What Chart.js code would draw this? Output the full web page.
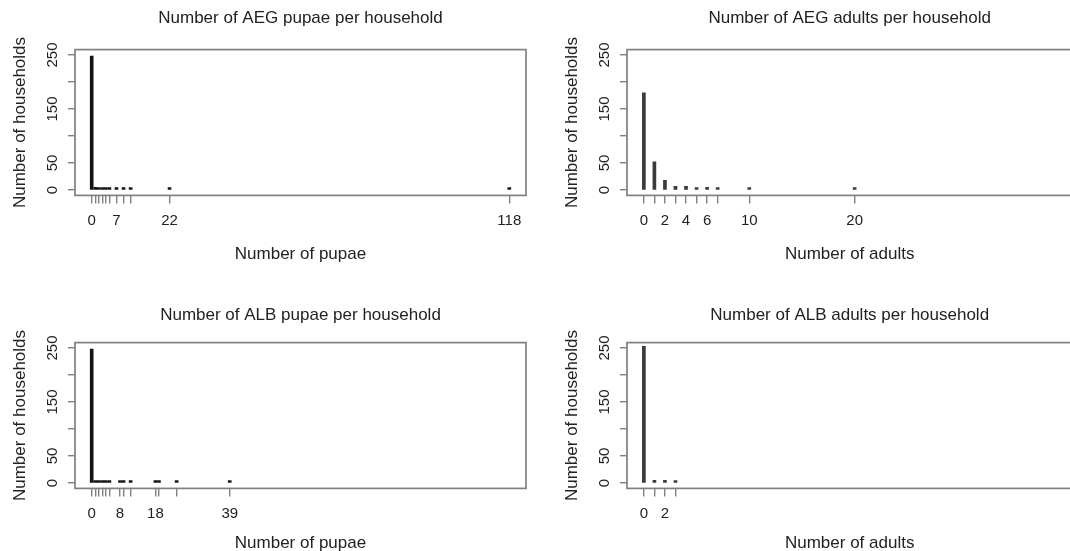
<!DOCTYPE html>
<html lang="en">
  <head>
    <meta charset="UTF-8" />
    <title>Households by number of pupae and adults</title>
    <script src="https://cdn.jsdelivr.net/npm/chart.js"></script>
    <style>
      html, body {
        margin: 0;
        padding: 0;
        background: #ffffff;
        overflow: hidden;
        width: 1070px;
        height: 551px;
      }
      canvas {
        position: absolute;
      }
    </style>
  </head>
  <body>
    <canvas id="aegPupae" width="540" height="275"></canvas>
    <canvas id="aegAdults" width="540" height="275"></canvas>
    <canvas id="albPupae" width="540" height="275"></canvas>
    <canvas id="albAdults" width="540" height="275"></canvas>
    <script>
      // counts per distinct value
      var aegPupaeValues = [0, 1, 2, 3, 4, 5, 7, 9, 11, 22, 118];
      var aegPupaeCounts = [248, 5, 3, 3, 2, 2, 1, 1, 1, 1, 1];
      var aegPupaeLabels = [0, 7, 22, 118];

      var aegAdultValues = [0, 1, 2, 3, 4, 5, 6, 7, 10, 20];
      var aegAdultCounts = [180, 52, 18, 7, 7, 3, 5, 3, 2, 2];
      var aegAdultLabels = [0, 2, 4, 6, 10, 20];

      var albPupaeValues = [0, 1, 2, 3, 4, 5, 8, 9, 11, 18, 19, 24, 39];
      var albPupaeCounts = [248, 4, 3, 2, 2, 2, 1, 1, 4, 1, 1, 1, 1];
      var albPupaeLabels = [0, 8, 18, 39];

      var albAdultValues = [0, 1, 2, 3];
      var albAdultCounts = [253, 5, 5, 3];
      var albAdultLabels = [0, 2];

      var yTickValues = [0, 50, 100, 150, 200, 250];
      var yTickLabels = [0, 50, 150, 250];

      var FONT = "'Liberation Sans', Arial, sans-serif";
      var TEXT = "#222222";
      var AXIS = "#808080";

      // R style box around the plot region
      var boxPlugin = {
        id: "plotBox",
        afterDatasetsDraw: function (chart) {
          var a = chart.chartArea;
          var ctx = chart.ctx;
          ctx.save();
          ctx.strokeStyle = AXIS;
          ctx.lineWidth = 1.7;
          ctx.strokeRect(a.left, a.top, a.right - a.left, a.bottom - a.top);
          ctx.restore();
        },
      };

      // p: left, top, padRight, titleShift, xTitleLift
      function makePanel(id, p, title, xTitle, values, counts, labels, xMin, xMax, barColor) {
        var el = document.getElementById(id);
        el.style.left = p.left + "px";
        el.style.top = p.top + "px";
        return new Chart(el.getContext("2d"), {
          type: "bar",
          data: {
            datasets: [
              {
                data: values.map(function (v, i) {
                  return { x: v, y: counts[i] };
                }),
                backgroundColor: barColor,
                borderWidth: 0,
                barThickness: 3,
                minBarLength: 2.5,
              },
            ],
          },
          options: {
            responsive: false,
            animation: false,
            events: [],
            layout: { padding: { left: 0, right: p.padRight, top: 0, bottom: 10.8 + p.xTitleLift } },
            plugins: {
              legend: { display: false },
              tooltip: { enabled: false },
              title: {
                display: true,
                text: title,
                fullSize: false,
                color: TEXT,
                font: { family: FONT, size: 17, weight: "normal" },
                padding: { top: 8 + p.titleShift, bottom: 21.2 - p.titleShift },
              },
            },
            scales: {
              x: {
                type: "linear",
                min: xMin,
                max: xMax,
                offset: false,
                border: { display: false },
                grid: {
                  drawOnChartArea: false,
                  offset: false,
                  tickLength: 8,
                  color: AXIS,
                  lineWidth: 1.4,
                },
                afterBuildTicks: function (s) {
                  s.ticks = values.map(function (v) {
                    return { value: v };
                  });
                },
                afterFit: function (s) {
                  s.height = 68.8 - p.xTitleLift;
                },
                ticks: {
                  autoSkip: false,
                  maxRotation: 0,
                  padding: 8,
                  color: TEXT,
                  font: { family: FONT, size: 15 },
                  callback: function (v) {
                    return labels.indexOf(v) >= 0 ? String(v) : "";
                  },
                },
                title: {
                  display: true,
                  text: xTitle,
                  color: TEXT,
                  font: { family: FONT, size: 17 },
                  padding: { top: 0, bottom: 0 },
                },
              },
              y: {
                min: -10,
                max: 260,
                border: { display: false },
                grid: {
                  drawOnChartArea: false,
                  tickLength: 7,
                  color: AXIS,
                  lineWidth: 1.4,
                },
                afterBuildTicks: function (s) {
                  s.ticks = yTickValues.map(function (v) {
                    return { value: v };
                  });
                },
                afterFit: function (s) {
                  s.width = 75;
                },
                ticks: {
                  autoSkip: false,
                  minRotation: 90,
                  maxRotation: 90,
                  crossAlign: "center",
                  padding: 2.5,
                  color: TEXT,
                  font: { family: FONT, size: 15 },
                  callback: function (v) {
                    return yTickLabels.indexOf(v) >= 0 ? String(v) : "";
                  },
                },
                title: {
                  display: true,
                  text: "Number of households",
                  color: TEXT,
                  font: { family: FONT, size: 17 },
                  padding: { top: 9.8, bottom: 0 },
                },
              },
            },
          },
          plugins: [boxPlugin],
        });
      }

      // right-hand panels run just past the edge of the picture, as in the original
      makePanel("aegPupae", { left: 0, top: 0, padRight: 14, titleShift: 0, xTitleLift: 0 },
        "Number of AEG pupae per household", "Number of pupae",
        aegPupaeValues, aegPupaeCounts, aegPupaeLabels, -4.72, 122.72, "#151515");
      makePanel("aegAdults", { left: 551.6, top: 0, padRight: 19.6, titleShift: 0, xTitleLift: 0 },
        "Number of AEG adults per household", "Number of adults",
        aegAdultValues, aegAdultCounts, aegAdultLabels, -1.6, 40.66, "#3a3a3a");
      makePanel("albPupae", { left: 0, top: 293.3, padRight: 14, titleShift: 4, xTitleLift: 4 },
        "Number of ALB pupae per household", "Number of pupae",
        albPupaeValues, albPupaeCounts, albPupaeLabels, -4.72, 122.72, "#151515");
      makePanel("albAdults", { left: 551.6, top: 293.3, padRight: 19.6, titleShift: 4, xTitleLift: 4 },
        "Number of ALB adults per household", "Number of adults",
        albAdultValues, albAdultCounts, albAdultLabels, -1.6, 40.66, "#3a3a3a");
    </script>
  </body>
</html>
